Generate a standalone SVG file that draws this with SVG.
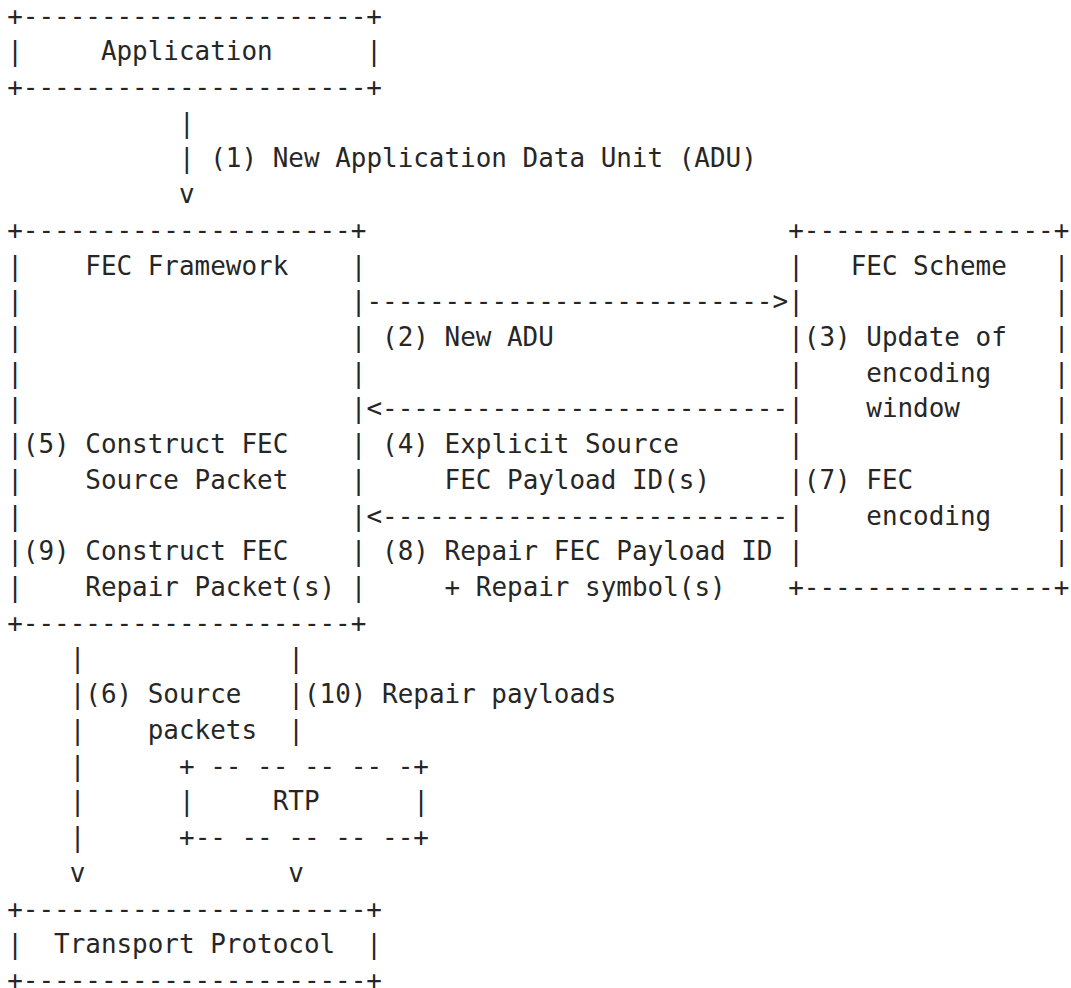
<svg xmlns="http://www.w3.org/2000/svg" width="1071" height="988" viewBox="0 0 1071 988">
<style>
  text { font-family: "DejaVu Sans Mono", "Liberation Mono", monospace; font-size: 25.95px; fill: #262626; white-space: pre; }
</style>
<rect width="1071" height="988" fill="#ffffff"/>
<g id="application">
  <text x="7.2" y="24.5" xml:space="preserve">+----------------------+</text>
  <text x="7.2" y="60.22" xml:space="preserve">|     Application      |</text>
  <text x="7.2" y="95.94" xml:space="preserve">+----------------------+</text>
</g>
<g id="fec-framework">
  <text x="7.2" y="238.82" xml:space="preserve">+---------------------+</text>
  <text x="7.2" y="274.54" xml:space="preserve">|    FEC Framework    |</text>
  <text x="7.2" y="310.26" xml:space="preserve">|                     |</text>
  <text x="7.2" y="345.98" xml:space="preserve">|                     |</text>
  <text x="7.2" y="381.7" xml:space="preserve">|                     |</text>
  <text x="7.2" y="417.42" xml:space="preserve">|                     |</text>
  <text x="7.2" y="453.14" xml:space="preserve">|(5) Construct FEC    |</text>
  <text x="7.2" y="488.86" xml:space="preserve">|    Source Packet    |</text>
  <text x="7.2" y="524.58" xml:space="preserve">|                     |</text>
  <text x="7.2" y="560.3" xml:space="preserve">|(9) Construct FEC    |</text>
  <text x="7.2" y="596.02" xml:space="preserve">|    Repair Packet(s) |</text>
  <text x="7.2" y="631.74" xml:space="preserve">+---------------------+</text>
</g>
<g id="fec-scheme">
  <text x="788.2" y="238.82" xml:space="preserve">+----------------+</text>
  <text x="788.2" y="274.54" xml:space="preserve">|   FEC Scheme   |</text>
  <text x="788.2" y="310.26" xml:space="preserve">|                |</text>
  <text x="788.2" y="345.98" xml:space="preserve">|(3) Update of   |</text>
  <text x="788.2" y="381.7" xml:space="preserve">|    encoding    |</text>
  <text x="788.2" y="417.42" xml:space="preserve">|    window      |</text>
  <text x="788.2" y="453.14" xml:space="preserve">|                |</text>
  <text x="788.2" y="488.86" xml:space="preserve">|(7) FEC         |</text>
  <text x="788.2" y="524.58" xml:space="preserve">|    encoding    |</text>
  <text x="788.2" y="560.3" xml:space="preserve">|                |</text>
  <text x="788.2" y="596.02" xml:space="preserve">+----------------+</text>
</g>
<g id="rtp">
  <text x="179.02" y="774.62" xml:space="preserve">+ -- -- -- -- -+</text>
  <text x="179.02" y="810.34" xml:space="preserve">|     RTP      |</text>
  <text x="179.02" y="846.06" xml:space="preserve">+-- -- -- -- --+</text>
</g>
<g id="transport-protocol">
  <text x="7.2" y="917.5" xml:space="preserve">+----------------------+</text>
  <text x="7.2" y="953.22" xml:space="preserve">|  Transport Protocol  |</text>
  <text x="7.2" y="988.5" xml:space="preserve">+----------------------+</text>
</g>
<g id="connectors">
  <text x="179.02" y="131.66" xml:space="preserve">|</text>
  <text x="179.02" y="167.38" xml:space="preserve">| (1) New Application Data Unit (ADU)</text>
  <text x="179.02" y="203.1" xml:space="preserve">v</text>
  <text x="366.46" y="310.26" xml:space="preserve">--------------------------&gt;</text>
  <text x="382.08" y="345.98" xml:space="preserve">(2) New ADU</text>
  <text x="366.46" y="417.42" xml:space="preserve">&lt;--------------------------</text>
  <text x="382.08" y="453.14" xml:space="preserve">(4) Explicit Source</text>
  <text x="444.56" y="488.86" xml:space="preserve">FEC Payload ID(s)</text>
  <text x="366.46" y="524.58" xml:space="preserve">&lt;--------------------------</text>
  <text x="382.08" y="560.3" xml:space="preserve">(8) Repair FEC Payload ID</text>
  <text x="444.56" y="596.02" xml:space="preserve">+ Repair symbol(s)</text>
  <text x="69.68" y="667.46" xml:space="preserve">|</text>
  <text x="69.68" y="703.18" xml:space="preserve">|(6) Source</text>
  <text x="69.68" y="738.9" xml:space="preserve">|    packets</text>
  <text x="69.68" y="774.62" xml:space="preserve">|</text>
  <text x="69.68" y="810.34" xml:space="preserve">|</text>
  <text x="69.68" y="846.06" xml:space="preserve">|</text>
  <text x="69.68" y="881.78" xml:space="preserve">v</text>
  <text x="288.36" y="667.46" xml:space="preserve">|</text>
  <text x="288.36" y="703.18" xml:space="preserve">|(10) Repair payloads</text>
  <text x="288.36" y="738.9" xml:space="preserve">|</text>
  <text x="288.36" y="881.78" xml:space="preserve">v</text>
</g>
</svg>
